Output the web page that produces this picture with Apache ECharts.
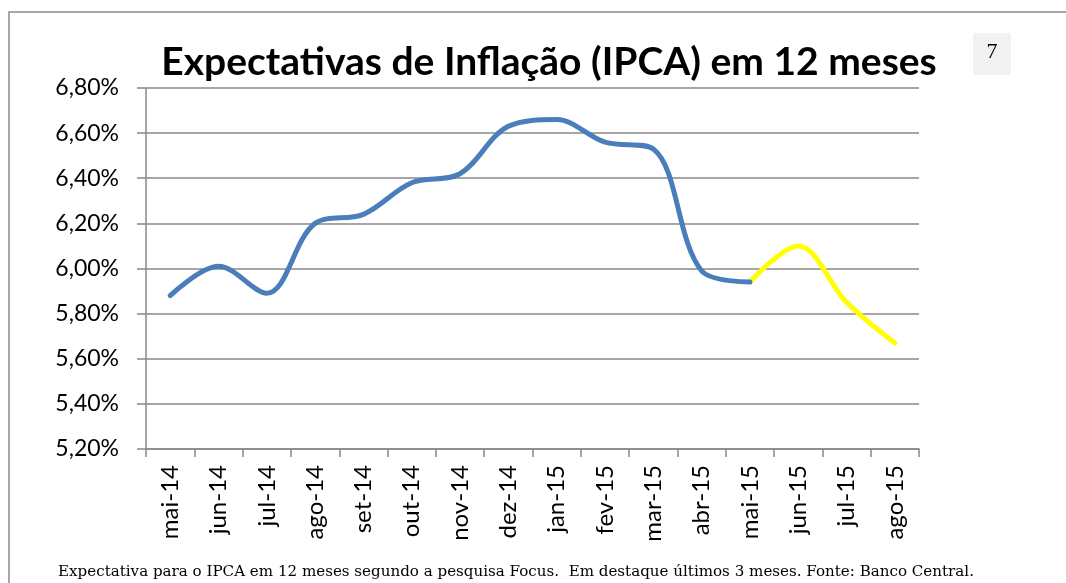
<!DOCTYPE html>
<html>
<head>
<meta charset="utf-8">
<script src="https://cdn.jsdelivr.net/npm/echarts@6/dist/echarts.min.js"></script>
<style>
  html, body { margin: 0; padding: 0; background: #fff; }
  #chart { width: 1066px; height: 583px; }
</style>
</head>
<body>
<div id="chart"></div>
<script>
  // meses (categorias do eixo x)
  var months = ['mai-14', 'jun-14', 'jul-14', 'ago-14', 'set-14', 'out-14', 'nov-14', 'dez-14',
                'jan-15', 'fev-15', 'mar-15', 'abr-15', 'mai-15', 'jun-15', 'jul-15', 'ago-15'];
  // expectativa IPCA 12 meses (%), período principal
  var ipcaMain = [5.88, 6.01, 5.89, 6.20, 6.24, 6.38, 6.42, 6.63, 6.66, 6.56, 6.53, 5.99, 5.94,
                  null, null, null];
  // últimos 3 meses em destaque
  var ipcaLast = [null, null, null, null, null, null, null, null, null, null, null, null, 5.94,
                  6.10, 5.85, 5.67];
  var yTicks = { min: 5.2, max: 6.8, step: 0.2 };

  var axisGray = '#888888';
  var font = 'Lato, "Open Sans", sans-serif';

  var chart = echarts.init(document.getElementById('chart'));
  chart.setOption({
    animation: false,
    backgroundColor: '#ffffff',
    title: {
      text: 'Expectativas de Inflação (IPCA) em 12 meses',
      left: 544,
      top: 38,
      textAlign: 'center',
      textStyle: {
        fontFamily: font,
        fontWeight: 'bold',
        fontSize: 39,
        color: '#000'
      }
    },
    grid: {
      left: 146,
      right: 147,
      top: 88,
      bottom: 134
    },
    xAxis: {
      type: 'category',
      data: months,
      boundaryGap: true,
      axisLine: { lineStyle: { color: axisGray, width: 1.5 } },
      axisTick: { show: true, length: 8, interval: 0, lineStyle: { color: axisGray, width: 1.5 } },
      axisLabel: {
        rotate: 90,
        interval: 0,
        margin: 16,
        fontFamily: font,
        fontSize: 24,
        color: '#000'
      }
    },
    yAxis: {
      type: 'value',
      min: yTicks.min,
      max: yTicks.max,
      interval: yTicks.step,
      axisLine: { show: true, lineStyle: { color: axisGray, width: 1.5 } },
      axisTick: { show: true, length: 9, lineStyle: { color: axisGray, width: 1.5 } },
      splitLine: { lineStyle: { color: axisGray, width: 1.5 } },
      axisLabel: {
        margin: 27,
        fontFamily: font,
        fontSize: 23,
        color: '#000',
        formatter: function (v) {
          return v.toFixed(2).replace('.', ',') + '%';
        }
      }
    },
    series: [{
      name: 'IPCA',
      type: 'line',
      data: ipcaMain,
      smooth: 0.35,
      showSymbol: false,
      connectNulls: false,
      lineStyle: { color: '#4a7ebb', width: 5, cap: 'round' },
      z: 3
    }, {
      name: 'Destaque',
      type: 'line',
      data: ipcaLast,
      smooth: 0.35,
      showSymbol: false,
      connectNulls: false,
      lineStyle: { color: '#ffff00', width: 5, cap: 'round' },
      z: 2
    }],
    graphic: [{
      // moldura da figura
      type: 'rect',
      shape: { x: 9, y: 12, width: 1200, height: 800 },
      style: { fill: null, stroke: '#8a8a8a', lineWidth: 1.5 },
      silent: true
    }, {
      type: 'rect',
      shape: { x: 973, y: 33, width: 38, height: 42 },
      style: { fill: '#f2f2f2' },
      silent: true
    }, {
      type: 'text',
      x: 992,
      y: 52,
      style: {
        text: '7',
        fontFamily: '"Liberation Serif", serif',
        fontSize: 22,
        fill: '#000',
        textAlign: 'center',
        textVerticalAlign: 'middle'
      }
    }, {
      type: 'text',
      x: 516,
      y: 572,
      style: {
        text: 'Expectativa para o IPCA em 12 meses segundo a pesquisa Focus.  Em destaque últimos 3 meses. Fonte: Banco Central.',
        fontFamily: '"DejaVu Serif", serif',
        fontSize: 15.1,
        fill: '#000',
        textAlign: 'center',
        textVerticalAlign: 'middle'
      }
    }]
  });
</script>
</body>
</html>
